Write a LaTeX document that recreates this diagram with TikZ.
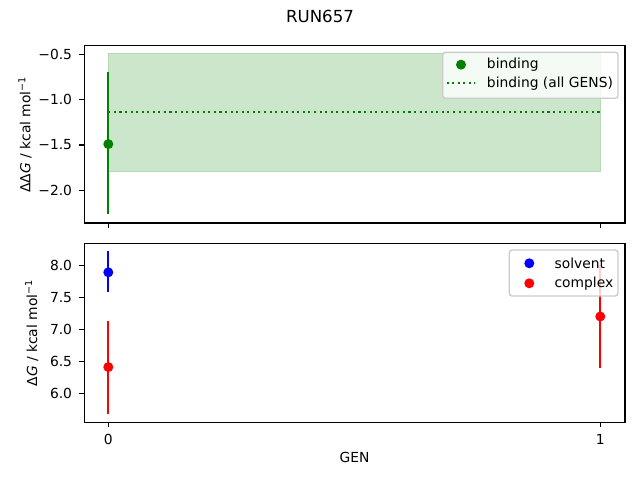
\documentclass[tikz,border=0pt]{standalone}
\usepackage{fontspec}
\setmainfont{DejaVu Sans}
\usepackage{tikz}
\definecolor{mplgreen}{RGB}{0,128,0}
\definecolor{mplblue}{RGB}{0,0,255}
\definecolor{mplred}{RGB}{255,0,0}
\definecolor{bandgreen}{RGB}{204,230,204}
\definecolor{bandedge}{RGB}{180,218,180}
\definecolor{legendedge}{RGB}{204,204,204}
\begin{document}
\begin{tikzpicture}[x=0.01in,y=-0.01in,font=\fontsize{10}{12}\selectfont,
		spine/.style={line width=0.8bp},
		errbar/.style={line width=1.5bp},
		dot/.style={circle,fill,inner sep=0pt,minimum size=0.1in},
		legendbox/.style={draw=legendedge,line width=1bp,fill=white,fill opacity=0.8,rounded corners=2bp}]
	\useasboundingbox (0,0) rectangle (640,480);
	\node (title) at (320,16) {\fontsize{12}{14}\selectfont RUN657};
	% top axes: binding
	\begin{scope}[shift={(108.3,8.95)},xscale=492,yscale=-90.7]
		\draw[fill=bandgreen,draw=bandedge] (0,-0.49) rectangle (1,-1.794);
		\draw[mplgreen,errbar,dash pattern=on 1.5bp off 2.5bp] (0,-1.136) -- (1,-1.136);
		\draw[mplgreen,errbar] (0,-0.695) -- (0,-2.264);
		\node[dot,mplgreen] (binding0) at (0,-1.49) {};
	\end{scope}
	\draw[spine] (84.3,45.7) rectangle (625,223);
	\foreach \v/\t [evaluate=\v as \py using 8.95-90.7*\v] in {-0.5/−0.5,-1.0/−1.0,-1.5/−1.5,-2.0/−2.0}
		\draw[spine] (84.3,\py) -- (79.4,\py) node[anchor=east,inner sep=0pt,xshift=-4.9bp] {\t};
	\foreach \gx in {108.3,600.3}
		\draw[spine] (\gx,223) -- (\gx,227.9);
	\node[rotate=90] (dglabel) at (25,134.4) {ΔΔ\textit{G} / kcal mol\textsuperscript{−1}};
	\draw[legendbox] (442.7,52.3) rectangle (618,98.3);
	\node[dot,mplgreen] (bindingkey) at (461,64.7) {};
	\node[anchor=west,inner sep=0pt] (bindingtext) at (486.7,64.7) {binding};
	\draw[mplgreen,errbar,dash pattern=on 1.5bp off 2.5bp] (446.7,83.3) -- (475,83.3);
	\node[anchor=west,inner sep=0pt] (alltext) at (486.7,83.3) {binding (all GENS)};
	% bottom axes: solvent and complex
	\begin{scope}[shift={(108.3,777.3)},xscale=492,yscale=-64]
		\draw[mplblue,errbar] (0,8.22) -- (0,7.585);
		\node[dot,mplblue] (solvent0) at (0,7.89) {};
		\draw[mplred,errbar] (0,7.13) -- (0,5.68);
		\node[dot,mplred] (complex0) at (0,6.41) {};
		\draw[mplred,errbar] (1,8.01) -- (1,6.39);
		\node[dot,mplred] (complex1) at (1,7.20) {};
	\end{scope}
	\draw[spine] (84.3,243.7) rectangle (625,422.3);
	\foreach \v [evaluate=\v as \py using 777.3-64*\v] in {8.0,7.5,7.0,6.5,6.0}
		\draw[spine] (84.3,\py) -- (79.4,\py) node[anchor=east,inner sep=0pt,xshift=-4.9bp] {\v};
	\foreach \gx/\t in {108.3/0,600.3/1}
		\draw[spine] (\gx,422.3) -- (\gx,427.2) node[anchor=north,inner sep=0pt,yshift=-4.9bp] {\t};
	\node[rotate=90] (glabel) at (31.7,333) {Δ\textit{G} / kcal mol\textsuperscript{−1}};
	\node (genlabel) at (354.6,457) {GEN};
	\draw[legendbox] (509.3,250) rectangle (618,296);
	\node[dot,mplblue] (solventkey) at (529.3,263.3) {};
	\node[anchor=west,inner sep=0pt] (solventtext) at (554.3,263.3) {solvent};
	\node[dot,mplred] (complexkey) at (529.3,283.3) {};
	\node[anchor=west,inner sep=0pt] (complextext) at (554.3,283.3) {complex};
\end{tikzpicture}
\end{document}
